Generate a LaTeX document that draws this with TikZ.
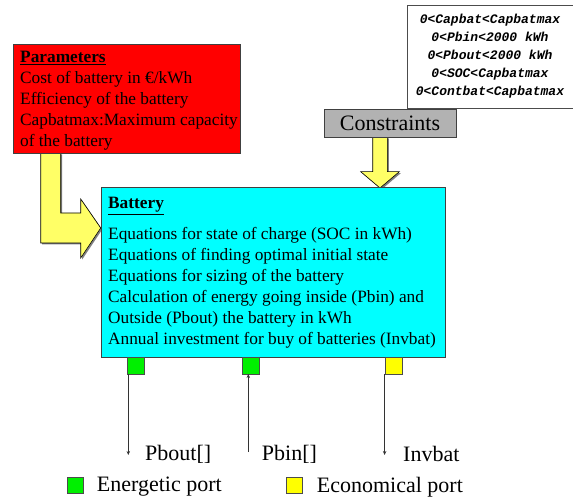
\documentclass[tikz,border=0pt]{standalone}
\usepackage{fontspec}
\setmainfont{Liberation Serif}
\newfontfamily\courfont{Liberation Mono}
\usetikzlibrary{arrows.meta,shadows,calc}
\definecolor{arrowyellow}{RGB}{255,255,102}
\definecolor{consgray}{RGB}{178,178,178}
\definecolor{boxcyan}{RGB}{0,255,255}
\definecolor{boxred}{RGB}{255,0,0}
\definecolor{portgreen}{RGB}{0,240,0}
\definecolor{portyellow}{RGB}{255,255,0}
\begin{document}
\begin{tikzpicture}[x=1pt,y=-1pt,
  box/.style={draw=black!75, line width=0.8pt, inner sep=0pt, outer sep=0pt,
    drop shadow={shadow xshift=1.2pt, shadow yshift=-1.2pt, fill=black!55, opacity=1}},
  bigtext/.style={font=\fontsize{22}{26}\selectfont, inner sep=0pt},
  bodytext/.style={font=\fontsize{17.3}{21}\selectfont, inner sep=0pt, align=left},
  monotext/.style={font=\courfont\bfseries\itshape\fontsize{13}{18}\selectfont, inner sep=0pt, align=center},
  port/.style={draw=black!70, line width=0.6pt, minimum size=17pt, inner sep=0pt, outer sep=0pt},
  fatarrow/.style={fill=arrowyellow, draw=black, line width=0.6pt,
    drop shadow={shadow xshift=1.5pt, shadow yshift=-1.5pt, fill=black!50, opacity=1}},
  flow/.style={draw=black!80, line width=0.6pt, -{Stealth[length=4pt,width=3.5pt]}}
]
\clip (0,0) rectangle (573,502);

% constraint list box (top right)
\node[draw=black!70, line width=0.8pt, fill=white, anchor=north west,
  minimum width=200pt, minimum height=103pt, inner sep=0pt] (clist) at (407,5) {};
\node[monotext] (clisttext) at (490,56)
  {0<Capbat<Capbatmax\\0<Pbin<2000 kWh\\0<Pbout<2000 kWh\\0<SOC<Capbatmax\\0<Contbat<Capbatmax};

% fat yellow arrows
\path[fatarrow] (40.7,153) -- (60.7,153) -- (60.7,213) -- (80.7,213) -- (80.7,199)
  -- (100.7,228) -- (80.7,258) -- (80.7,243) -- (40.7,243) -- cycle;
\path[fatarrow] (372.7,137) -- (387.3,137) -- (387.3,171.7) -- (399.3,171.7)
  -- (380,188) -- (360.7,171.7) -- (372.7,171.7) -- cycle;

% parameters box
\node[box, fill=boxred, anchor=north west, minimum width=227pt, minimum height=109pt] (param) at (13,44) {};
\node[bodytext, anchor=west] (paramtext) at ($(param.west)+(7,2)$)
  {\textbf{\underline{Parameters}}\\
   Cost of battery in €/kWh\\
   Efficiency of the battery\\
   Capbatmax:Maximum capacity\\
   of the battery};

% constraints box
\node[box, fill=consgray, minimum width=132pt, minimum height=28pt, bigtext] (cons) at (390,123) {Constraints};

% battery box
\node[box, fill=boxcyan, anchor=north west, minimum width=344pt, minimum height=170pt] (batt) at (101,187) {};
\node[bodytext, anchor=west] (batttext) at ($(batt.west)+(7,1)$)
  {\textbf{\underline{Battery}}\\[10pt]
   Equations for state of charge (SOC in kWh)\\
   Equations of finding optimal initial state\\
   Equations for sizing of the battery\\
   Calculation of energy going inside (Pbin) and\\
   Outside (Pbout) the battery in kWh\\
   Annual investment for buy of batteries (Invbat)};

% ports
\node[port, fill=portgreen, anchor=north] (p1) at (135.7,357) {};
\node[port, fill=portgreen, anchor=north] (p2) at (250.7,357) {};
\node[port, fill=portyellow, anchor=north] (p3) at (393.3,357) {};

% flows
\coordinate (o1) at (128.3,455);
\coordinate (i2) at (248.3,452);
\coordinate (o3) at (384.6,455);
\draw[flow] (p1.south -| o1) -- (o1);
\draw[flow] (i2) -- (i2 |- p2.south);
\draw[flow] (p3.south -| o3) -- (o3);

% labels
\node[bigtext, anchor=west] (lpbout) at (145,454) {Pbout[]};
\node[bigtext, anchor=west] (lpbin) at (261.7,454) {Pbin[]};
\node[bigtext, anchor=west] (linv) at (403,454) {Invbat};

% legend
\node[port, fill=portgreen, minimum size=16pt] (leg1) at (75,485.5) {};
\node[bigtext, anchor=west] (leg1t) at (96.7,487) {Energetic port};
\node[port, fill=portyellow, minimum size=16pt] (leg2) at (294.3,485.5) {};
\node[bigtext, anchor=west] (leg2t) at (316.7,487) {Economical port};
\end{tikzpicture}
\end{document}
